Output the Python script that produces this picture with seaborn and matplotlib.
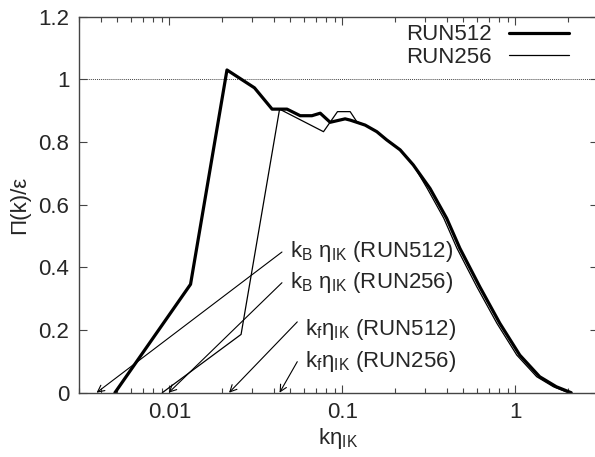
import numpy as np
import pandas as pd
import matplotlib
matplotlib.use("Agg")
import matplotlib.pyplot as plt
import seaborn as sns

# ---- data ----
k512 = [0.00484, 0.01324, 0.0215, 0.031, 0.0392, 0.0478, 0.0570, 0.0666, 0.0744,
        0.0849, 0.0929, 0.1036, 0.1108, 0.121, 0.1353, 0.158, 0.180, 0.2155,
        0.2566, 0.3206, 0.400, 0.477, 0.622, 0.812, 1.059, 1.38, 1.723, 2.10]
p512 = [0.0, 0.346, 1.030, 0.973, 0.905, 0.905, 0.884, 0.884, 0.892,
        0.863, 0.868, 0.874, 0.870, 0.863, 0.854, 0.833, 0.807, 0.775,
        0.727, 0.652, 0.557, 0.461, 0.338, 0.2215, 0.120, 0.051, 0.019, 0.0]
k256 = [0.00909, 0.02594, 0.0433, 0.0777, 0.0936, 0.1108, 0.121, 0.1353, 0.158,
        0.180, 0.2155, 0.2566, 0.309, 0.385, 0.459, 0.598, 0.781, 1.018, 1.327,
        1.657, 2.02]
p256 = [0.0, 0.186, 0.905, 0.833, 0.897, 0.897, 0.865, 0.854, 0.833,
        0.807, 0.775, 0.727, 0.652, 0.557, 0.461, 0.338, 0.2215, 0.120, 0.051,
        0.019, 0.0]
series_names = ["RUN512", "RUN256"]

ann_labels = [r"k$_\mathrm{B}$ η$_\mathrm{IK}$ (RUN512)",
              r"k$_\mathrm{B}$ η$_\mathrm{IK}$ (RUN256)",
              r"k$_\mathrm{f}$η$_\mathrm{IK}$ (RUN512)",
              r"k$_\mathrm{f}$η$_\mathrm{IK}$ (RUN256)"]
ann_tip_k = [0.00379, 0.0099, 0.0221, 0.0433]

xticks = [0.01, 0.1, 1]
xticklabels = ["0.01", "0.1", "1"]
yticks = [0, 0.2, 0.4, 0.6, 0.8, 1.0, 1.2]
yticklabels = ["0", "0.2", "0.4", "0.6", "0.8", "1", "1.2"]

# ---- styling ----
sns.set_style("ticks")
plt.rcParams["font.family"] = ["Liberation Sans", "DejaVu Sans"]
plt.rcParams["mathtext.fontset"] = "custom"
plt.rcParams["mathtext.rm"] = "Liberation Sans"
plt.rcParams["mathtext.it"] = "Liberation Sans:italic"
plt.rcParams["mathtext.bf"] = "Liberation Sans:bold"

FS = 16

df = pd.concat([
    pd.DataFrame({"k": k512, "P": p512, "run": series_names[0]}),
    pd.DataFrame({"k": k256, "P": p256, "run": series_names[1]}),
])

fig = plt.figure(figsize=(5.95, 4.57), dpi=100)
W, H = 595, 457
ax = fig.add_axes([79 / W, (H - 392.7) / H, (598 - 79) / W, (392.7 - 16.7) / H])

sns.lineplot(data=df, x="k", y="P", hue="run", size="run",
             hue_order=series_names, size_order=series_names,
             palette={"RUN512": "black", "RUN256": "black"},
             sizes={"RUN512": 2.3, "RUN256": 0.9},
             sort=False, estimator=None, ax=ax, legend=True)

ax.set_xscale("log")
ax.set_xlim(0.003, 3)
ax.set_ylim(0, 1.2)
ax.axhline(1.0, color="#444444", lw=0.7, ls=(0, (1, 1)), zorder=0)

ax.set_xticks(xticks)
ax.set_xticklabels(xticklabels)
ax.set_yticks(yticks)
ax.set_yticklabels(yticklabels)
ax.tick_params(which="both", direction="in", top=True, right=True,
               labelsize=FS, color="#444444")
ax.tick_params(which="major", length=6, width=0.8, pad=7)
ax.tick_params(which="minor", length=3.5, width=0.8)
for s in ax.spines.values():
    s.set_color("#444444")
    s.set_linewidth(1.0)

ax.set_xlabel(r"kη$_\mathrm{IK}$", fontsize=FS, labelpad=2)
ax.set_ylabel("Π(k)/ε", fontsize=FS, labelpad=6)

# annotations
tails = [(0.0447, 0.449), (0.0447, 0.351), (0.0548, 0.226), (0.0548, 0.099)]
text_pos = [(0.0499, 0.432), (0.0499, 0.334), (0.0609, 0.184), (0.0609, 0.083)]
for lab, tip, tail, tp in zip(ann_labels, ann_tip_k, tails, text_pos):
    ax.annotate("", xy=(tip, 0), xytext=tail,
                arrowprops=dict(arrowstyle="->", lw=0.8, color="black",
                                shrinkA=0, shrinkB=0, mutation_scale=12))
    ax.text(tp[0], tp[1], lab, fontsize=FS, ha="left", va="baseline")

h, l = ax.get_legend_handles_labels()
leg = ax.legend(h, l, loc="upper right", bbox_to_anchor=(0.97, 1.015),
                frameon=False, markerfirst=False, fontsize=FS,
                handlelength=2.7, handletextpad=0.8, labelspacing=0.05,
                borderaxespad=0.2)

fig.savefig("out.png", dpi=100)
